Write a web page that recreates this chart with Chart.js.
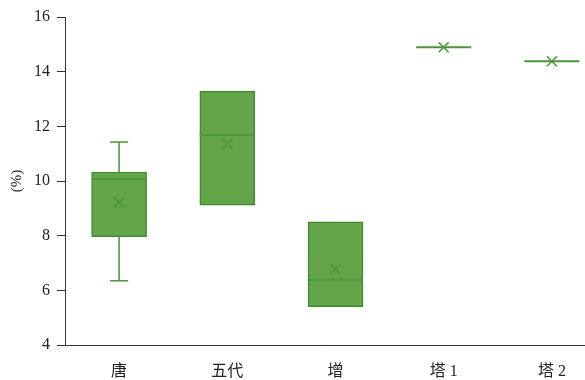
<!DOCTYPE html>
<html>
<head>
<meta charset="utf-8">
<script src="https://cdn.jsdelivr.net/npm/chart.js@4/dist/chart.umd.min.js"></script>
<style>
  html, body { margin: 0; padding: 0; background: #fff; }
  #wrap { width: 585px; height: 380px; }
</style>
</head>
<body>
<div id="wrap"><canvas id="boxChart"></canvas></div>
<script>
// groups and their box statistics (%)
const categories = ['唐', '五代', '增', '塔 1', '塔 2'];
const whiskerMin = [6.35, 9.12, 5.40, 14.89, 14.38];
const q1 = [7.96, 9.12, 5.40, 14.89, 14.38];
const median = [10.06, 11.67, 6.38, 14.89, 14.38];
const q3 = [10.33, 13.29, 8.51, 14.89, 14.38];
const whiskerMax = [11.43, 13.29, 8.51, 14.89, 14.38];
const mean = [9.22, 11.35, 6.78, 14.89, 14.38];
const yTicks = [4, 6, 8, 10, 12, 14, 16];

const fillGreen = '#63a548';
const edgeGreen = '#3f8a2f';
const lineGreen = '#4a9539';
const axisColor = '#333';
const fontFamily = "'Liberation Serif', 'Noto Sans CJK SC', serif";
const boxWidth = 55;

// boxes only where q1 and q3 differ
const boxData = [];
categories.forEach((c, i) => {
    if (q3[i] > q1[i]) boxData.push({ x: i + 1, y: [q1[i], q3[i]] });
});
const meanData = categories.map((c, i) => ({ x: i + 1, y: mean[i] }));

// medians, whiskers and caps on top of the boxes
const boxDetails = {
    id: 'boxDetails',
    afterDatasetsDraw(chart) {
        const ctx = chart.ctx;
        const xs = chart.scales.x;
        const ys = chart.scales.y;
        ctx.save();
        ctx.strokeStyle = lineGreen;
        categories.forEach((c, i) => {
            const px = xs.getPixelForValue(i + 1);
            const half = boxWidth / 2;
            const flat = q3[i] <= q1[i];
            // median line
            ctx.lineWidth = flat ? 2 : 1.5;
            ctx.beginPath();
            ctx.moveTo(px - half, ys.getPixelForValue(median[i]));
            ctx.lineTo(px + half, ys.getPixelForValue(median[i]));
            ctx.stroke();
            ctx.lineWidth = 1.5;
            const cap = 9;
            if (whiskerMax[i] > q3[i]) {
                const top = ys.getPixelForValue(whiskerMax[i]);
                ctx.beginPath();
                ctx.moveTo(px, ys.getPixelForValue(q3[i]));
                ctx.lineTo(px, top);
                ctx.moveTo(px - cap, top);
                ctx.lineTo(px + cap, top);
                ctx.stroke();
            }
            if (whiskerMin[i] < q1[i]) {
                const bot = ys.getPixelForValue(whiskerMin[i]);
                ctx.beginPath();
                ctx.moveTo(px, ys.getPixelForValue(q1[i]));
                ctx.lineTo(px, bot);
                ctx.moveTo(px - cap, bot);
                ctx.lineTo(px + cap, bot);
                ctx.stroke();
            }
        });
        ctx.restore();
    }
};

const ctx = document.getElementById('boxChart').getContext('2d');
new Chart(ctx, {
    data: {
        datasets: [{
            type: 'bar',
            data: boxData,
            backgroundColor: fillGreen,
            borderColor: edgeGreen,
            borderWidth: 1.5,
            borderSkipped: false,
            barThickness: boxWidth,
            order: 2
        }, {
            type: 'scatter',
            data: meanData,
            pointStyle: 'crossRot',
            pointRadius: 7,
            borderColor: lineGreen,
            borderWidth: 1.5,
            order: 1
        }]
    },
    options: {
        responsive: true,
        maintainAspectRatio: false,
        animation: false,
        layout: { autoPadding: false, padding: { top: 17, left: 0, right: 0, bottom: 0 } },
        plugins: {
            legend: { display: false },
            tooltip: { enabled: false }
        },
        scales: {
            x: {
                type: 'linear',
                offset: false,
                min: 0.5,
                max: 5.306,
                afterBuildTicks: (scale) => {
                    scale.ticks = categories.map((c, i) => ({ value: i + 1 }));
                },
                afterFit: (scale) => {
                    scale.height = 35;
                    scale.paddingLeft = 0;
                    scale.paddingRight = 0;
                },
                grid: { display: false, drawTicks: false },
                border: { display: true, color: axisColor, width: 1 },
                ticks: {
                    padding: 17,
                    color: '#222',
                    font: { family: fontFamily, size: 16 },
                    callback: (v) => categories[v - 1]
                }
            },
            y: {
                min: 4,
                max: 16,
                afterBuildTicks: (scale) => {
                    scale.ticks = yTicks.map(v => ({ value: v }));
                },
                afterFit: (scale) => {
                    scale.width = 65;
                    scale.paddingTop = 0;
                    scale.paddingBottom = 0;
                },
                grid: { drawOnChartArea: false, tickLength: 8, color: axisColor },
                border: { display: true, color: axisColor, width: 1 },
                ticks: {
                    padding: 7,
                    color: '#222',
                    font: { family: fontFamily, size: 16 }
                },
                title: {
                    display: true,
                    text: '(%)',
                    color: '#222',
                    padding: { top: 8, bottom: 4 },
                    font: { family: fontFamily, size: 15 }
                }
            }
        }
    },
    plugins: [boxDetails]
});
</script>
</body>
</html>
